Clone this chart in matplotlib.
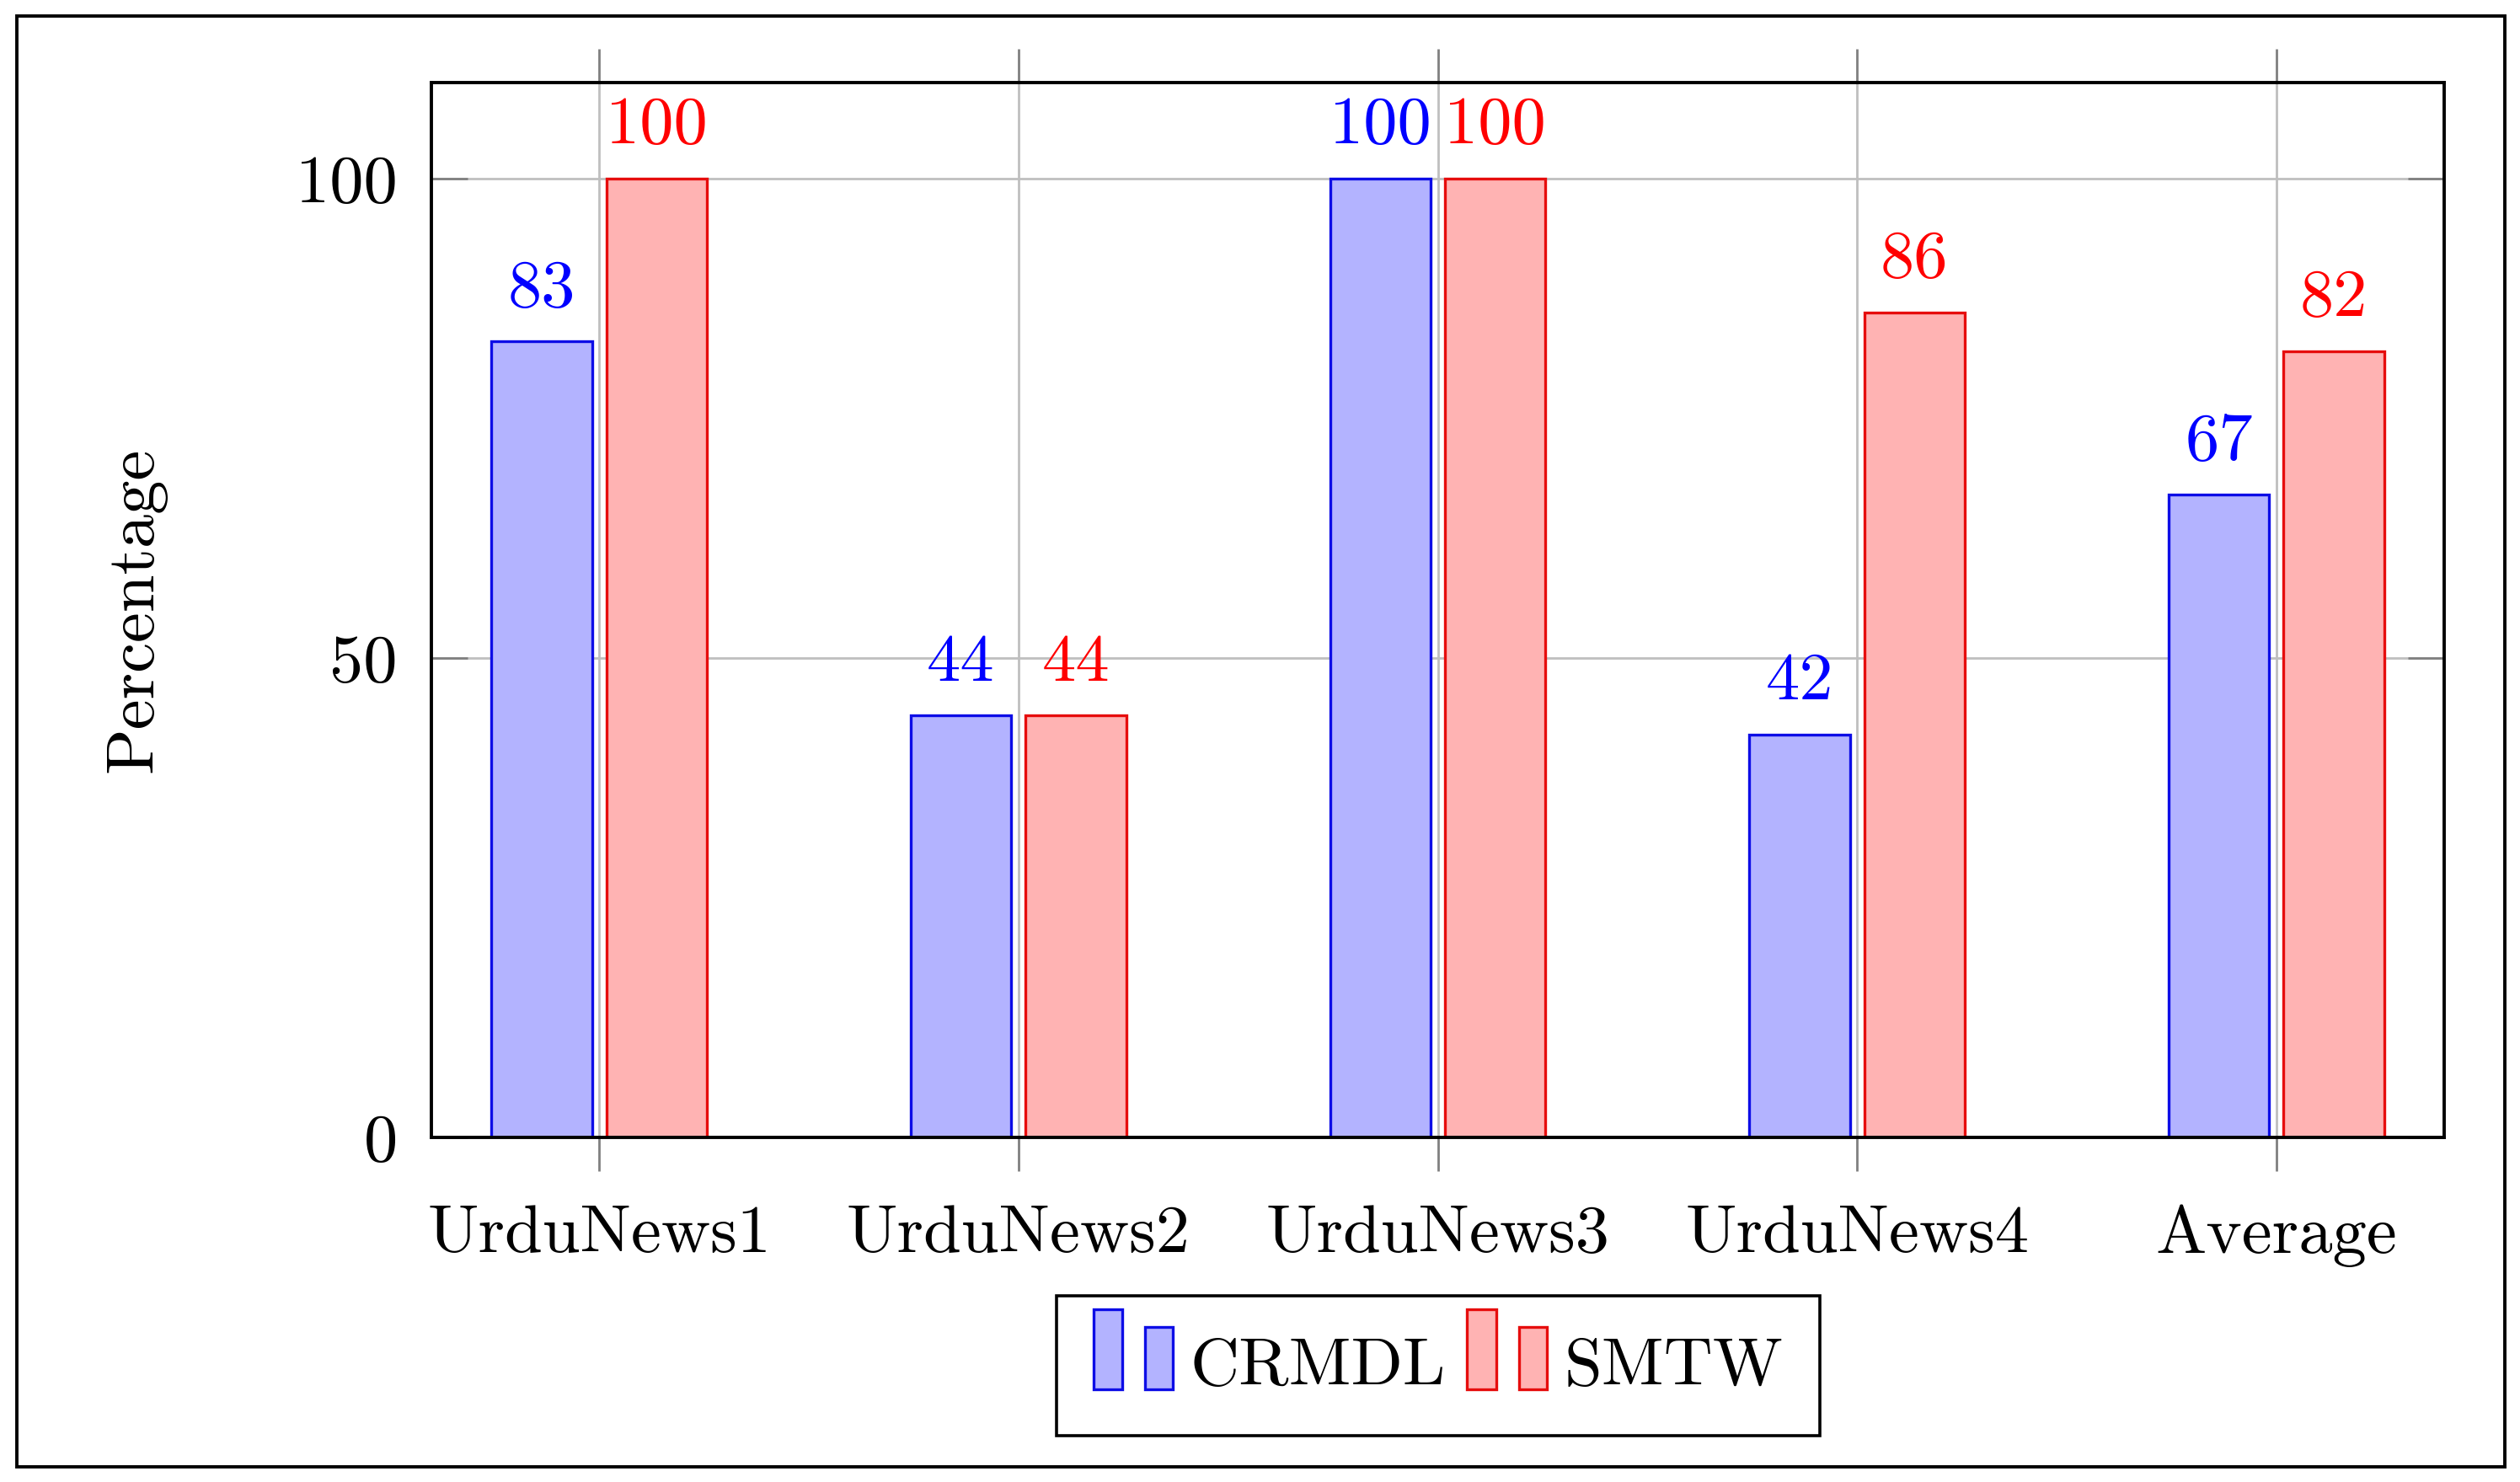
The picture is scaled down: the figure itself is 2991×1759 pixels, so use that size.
import numpy as np
import matplotlib
matplotlib.use("Agg")
import matplotlib.pyplot as plt
from matplotlib.patches import Rectangle
from matplotlib.container import BarContainer
from matplotlib.legend_handler import HandlerBase

# data
categories = ["UrduNews1", "UrduNews2", "UrduNews3", "UrduNews4", "Average"]
crmdl = [83, 44, 100, 42, 67]
smtw = [100, 44, 100, 86, 82]
series_names = ["CRMDL", "SMTW"]
yticks = [0, 50, 100]

W, H = 2991, 1759
FS = 58

plt.rcParams["font.family"] = ["cmr10", "DejaVu Serif"]
plt.rcParams["font.size"] = FS


# pgfplots style ybar legend icon: two bars of different height
class BarPairHandler(HandlerBase):
    def create_artists(self, legend, orig_handle, xdescent, ydescent,
                       width, height, fontsize, trans):
        p = orig_handle.patches[0]
        fc, ec = p.get_facecolor(), p.get_edgecolor()
        x0 = -xdescent
        y0 = -0.062 * fontsize
        tall = Rectangle((x0, y0), 0.43 * fontsize, 1.18 * fontsize,
                         facecolor=fc, edgecolor=ec, lw=2.4, transform=trans)
        short = Rectangle((x0 + 0.76 * fontsize, y0), 0.41 * fontsize, 0.91 * fontsize,
                          facecolor=fc, edgecolor=ec, lw=2.4, transform=trans)
        return [tall, short]


fig = plt.figure(figsize=(W / 100, H / 100), dpi=100)
ax = fig.add_axes([512 / W, 1 - 1350 / H, (2901 - 512) / W, (1350 - 98) / H])

x = np.arange(len(categories))
shift = 0.137
bw = 0.24
b1 = ax.bar(x - shift, crmdl, bw, color=(0.7, 0.7, 1.0), edgecolor=(0.05, 0.05, 0.9),
            linewidth=2.4, label=series_names[0])
b2 = ax.bar(x + shift, smtw, bw, color=(1.0, 0.7, 0.7), edgecolor=(0.9, 0.05, 0.05),
            linewidth=2.4, label=series_names[1])

for bars, vals, col in [(b1, crmdl, "blue"), (b2, smtw, "red")]:
    for rect, v in zip(bars.patches, vals):
        ax.annotate(f"{v}", (rect.get_x() + rect.get_width() / 2, v),
                    xytext=(0, 30), textcoords="offset points",
                    ha="center", va="baseline", color=col, fontsize=FS)

ax.set_xlim(-0.4, 4.4)
ax.set_ylim(0, 110)
ax.set_xticks(x, labels=categories)
ax.set_yticks(yticks, labels=[str(t) for t in yticks])
ax.set_axisbelow(True)
ax.grid(True, color=(0.75, 0.75, 0.75), linewidth=2.0)

ax.tick_params(axis="x", direction="out", length=29, width=2.0, color=(0.5, 0.5, 0.5),
               top=True, bottom=True, pad=28.6, labelsize=FS)
ax.tick_params(axis="y", direction="in", length=31, width=2.0, color=(0.5, 0.5, 0.5),
               left=True, right=True, pad=29, labelsize=FS)
for s in ax.spines.values():
    s.set_linewidth(2.8)
    s.set_color("black")

fig.text(180 / W, 1 - 724 / H, "Percentage", rotation=90, rotation_mode="anchor",
         ha="center", va="baseline", fontsize=FS)

leg = fig.legend(handles=[b1, b2], labels=series_names, ncol=2,
                 handler_map={BarContainer: BarPairHandler()},
                 loc="upper center", bbox_to_anchor=(1707 / W, 1 - 1538 / H),
                 bbox_transform=fig.transFigure, borderaxespad=0,
                 fontsize=FS, handlelength=1.18, handleheight=0.92,
                 handletextpad=0.25, columnspacing=0.31, borderpad=0.545,
                 fancybox=False, framealpha=1, edgecolor="black")
leg.get_frame().set_linewidth(2.6)

# frame around the whole picture
fig.add_artist(Rectangle((20 / W, 1 - 1741 / H), (2973 - 20) / W, (1741 - 19) / H,
                         transform=fig.transFigure, fill=False, edgecolor="black", linewidth=2.8))

fig.savefig("out.png", dpi=100, facecolor="white")
